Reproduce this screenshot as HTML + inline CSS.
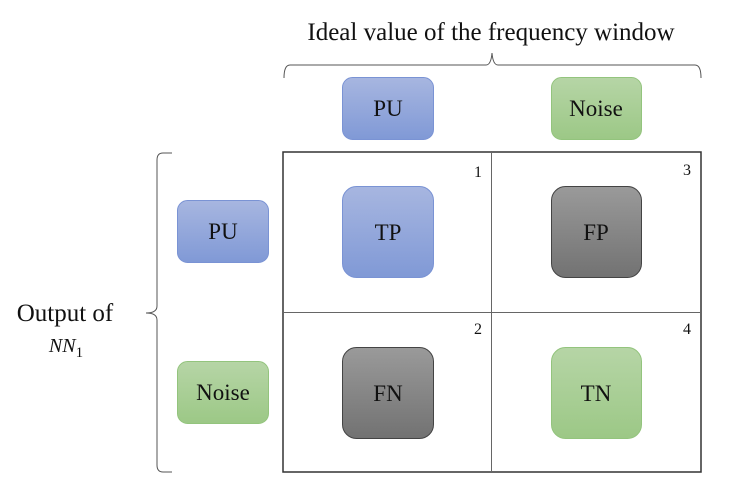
<!DOCTYPE html>
<html><head><meta charset="utf-8"><style>
body{margin:0;width:733px;height:495px;background:#fff;overflow:hidden}
svg text{font-family:"Liberation Serif",serif;fill:#111}
</style></head><body>
<svg width="733" height="495" viewBox="0 0 733 495">
<defs>
<linearGradient id="b" x1="0" y1="0" x2="0" y2="1"><stop offset="0" stop-color="#a7b6e0"/><stop offset="1" stop-color="#8099d6"/></linearGradient>
<linearGradient id="g" x1="0" y1="0" x2="0" y2="1"><stop offset="0" stop-color="#b6d5a6"/><stop offset="1" stop-color="#9cc886"/></linearGradient>
<linearGradient id="k" x1="0" y1="0" x2="0" y2="1"><stop offset="0" stop-color="#9a9a9a"/><stop offset="1" stop-color="#727272"/></linearGradient>
</defs>
<text x="491" y="40" font-size="25" text-anchor="middle">Ideal value of the frequency window</text>
<path d="M284 78 Q284 65 290 65 L486 65 Q491 65 492 53 Q493 65 498 65 L695 65 Q701 65 701 78" fill="none" stroke="#555" stroke-width="1"/>
<path d="M172 153 L163 153 Q157 153 157 160 L157 306 Q157 313 146 313 Q157 313 157 320 L157 465 Q157 472 163 472 L172 472" fill="none" stroke="#555" stroke-width="1"/>
<text x="65" y="321" font-size="25" text-anchor="middle">Output of</text>
<text x="66" y="352" font-size="20" font-style="italic" text-anchor="middle">NN<tspan font-size="15" font-style="normal" dy="5">1</tspan></text>
<rect x="283" y="152" width="418" height="320" fill="none" stroke="#333" stroke-width="1.5"/>
<line x1="491.5" y1="152" x2="491.5" y2="472" stroke="#666" stroke-width="1"/>
<line x1="283" y1="312.5" x2="701" y2="312.5" stroke="#666" stroke-width="1"/>
<g stroke-width="1">
<rect x="342.5" y="77.5" width="91" height="62" rx="10" fill="url(#b)" stroke="#7a93d4"/>
<rect x="551.5" y="77.5" width="90" height="62" rx="10" fill="url(#g)" stroke="#93c47d"/>
<rect x="177.5" y="200.5" width="91" height="62" rx="10" fill="url(#b)" stroke="#7a93d4"/>
<rect x="177.5" y="361.5" width="91" height="62" rx="10" fill="url(#g)" stroke="#93c47d"/>
<rect x="342.5" y="186.5" width="91" height="91" rx="14" fill="url(#b)" stroke="#7a93d4"/>
<rect x="551.5" y="186.5" width="90" height="91" rx="14" fill="url(#k)" stroke="#444"/>
<rect x="342.5" y="347.5" width="91" height="91" rx="14" fill="url(#k)" stroke="#444"/>
<rect x="551.5" y="347.5" width="90" height="91" rx="14" fill="url(#g)" stroke="#93c47d"/>
</g>
<g font-size="23" text-anchor="middle">
<text x="388" y="116">PU</text>
<text x="596" y="116">Noise</text>
<text x="223" y="239">PU</text>
<text x="223" y="400">Noise</text>
<text x="388" y="240">TP</text>
<text x="596" y="240">FP</text>
<text x="388" y="401">FN</text>
<text x="596" y="401">TN</text>
</g>
<g font-size="16" text-anchor="middle">
<text x="478" y="177">1</text>
<text x="687" y="175">3</text>
<text x="478" y="334">2</text>
<text x="687" y="334">4</text>
</g>
</svg>
</body></html>
